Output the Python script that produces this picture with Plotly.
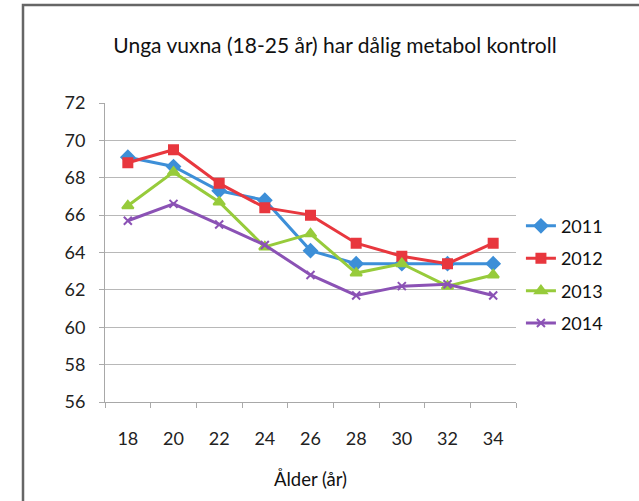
import plotly.graph_objects as go

ages = ["18", "20", "22", "24", "26", "28", "30", "32", "34"]
v2011 = [69.1, 68.6, 67.3, 66.8, 64.1, 63.4, 63.4, 63.4, 63.4]
v2012 = [68.8, 69.5, 67.7, 66.4, 66.0, 64.5, 63.8, 63.4, 64.5]
v2013 = [66.5, 68.3, 66.7, 64.3, 65.0, 62.9, 63.4, 62.2, 62.8]
v2014 = [65.7, 66.6, 65.5, 64.4, 62.8, 61.7, 62.2, 62.3, 61.7]
y_ticks = [56, 58, 60, 62, 64, 66, 68, 70, 72]

series = [
    ("2011", v2011, "#3d8fd8", "diamond", 10),
    ("2012", v2012, "#e8373e", "square", 9),
    ("2013", v2013, "#97cb3b", "triangle-up", 10),
    ("2014", v2014, "#8b52b5", "x-thin", 8),
]

fig = go.Figure()
for name, vals, col, sym, sz in series:
    fig.add_trace(go.Scatter(
        x=ages, y=vals, name=name, mode="lines+markers",
        legendgroup=name,
        line=dict(color=col, width=3),
        marker=dict(symbol=sym, size=sz, color=col,
                    line=dict(color=col, width=2)),
    ))

FONT = "Lato, 'Open Sans', sans-serif"
fig.update_layout(
    width=639, height=501,
    margin=dict(l=105, r=123, t=103, b=99),
    paper_bgcolor="white", plot_bgcolor="white",
    font=dict(family=FONT, size=18, color="#222"),
    title=dict(text="Unga vuxna (18-25 år) har dålig metabol kontroll",
               x=335 / 639, xanchor="center", y=1 - 46 / 501, yanchor="middle",
               yref="container", font=dict(size=21, color="#111")),
    showlegend=True,
    legend=dict(x=1.012, y=0.65, xanchor="left", yanchor="top",
                tracegroupgap=6, itemwidth=30,
                font=dict(size=18, color="#111"), bgcolor="rgba(0,0,0,0)"),
    xaxis=dict(type="category", range=[-0.5, 8.5], tickson="boundaries",
               ticks="outside", ticklen=5, tickcolor="#aaa",
               showline=True, linecolor="#a8a8a8", linewidth=1,
               showgrid=False, ticklabelstandoff=20,
               title=dict(text="Ålder (år)", standoff=25,
                          font=dict(size=18.5, color="#111"))),
    yaxis=dict(range=[56, 72], tickvals=y_ticks,
               ticks="outside", ticklen=5, tickcolor="#aaa",
               showline=True, linecolor="#a8a8a8", linewidth=1,
               showgrid=True, gridcolor="#b8b8b8", gridwidth=1,
               zeroline=False, ticklabelstandoff=10),
)

# cropped outer frame (only left and top edges fall inside the view)
fig.add_shape(type="rect", xref="paper", yref="paper",
              x0=(23 - 105) / 411, x1=(700 - 105) / 411,
              y0=(402 - 560) / 299, y1=(402 - 5) / 299,
              line=dict(color="#666", width=2.5), fillcolor="rgba(0,0,0,0)",
              layer="above")

fig.write_html("out.html", config={"displayModeBar": False},
               post_script="document.body.style.margin='0';")
